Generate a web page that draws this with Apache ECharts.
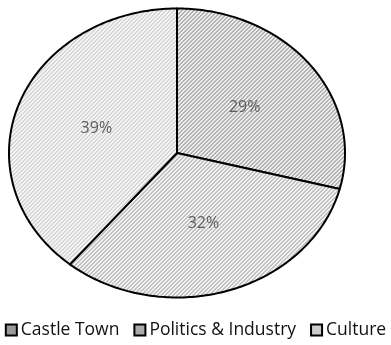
<!DOCTYPE html>
<html>
<head>
<meta charset="utf-8">
<script src="https://cdn.jsdelivr.net/npm/echarts@6/dist/echarts.min.js"></script>
<style>
    html, body { margin: 0; padding: 0; background: #fff; }
    #chart { width: 391px; height: 345px; }
</style>
</head>
<body>
<div id="chart"></div>
<script>
// data
var categories = ['Castle Town', 'Politics & Industry', 'Culture'];
var shares = [29, 32, 39];

// hatch colours (stripe / background) per slice
var stripeColors = ['#b2b2b2', '#c2c2c2', '#d6d6d6'];
var backColors = ['#eeeeee', '#f1f1f1', '#f6f6f6'];
var legendColors = ['#9a9a9a', '#ababab', '#cccccc'];

//small diagonal hatch tile used as a pattern fill
function hatch(line, back) {
    var c = document.createElement('canvas');
    c.width = 4;
    c.height = 4;
    var ctx = c.getContext('2d');
    ctx.fillStyle = back;
    ctx.fillRect(0, 0, 4, 4);
    ctx.fillStyle = line;
    for (var x = 0; x < 4; x++) {
        ctx.fillRect(x, (3 - x + 4) % 4, 1, 1);
        ctx.fillRect(x, (4 - x) % 4, 1, 1);
    }
    return c;
}

var total = 0;
var starts = [];
for (var i = 0; i < shares.length; i++) {
    starts.push(total);
    total += shares[i];
}

var patterns = categories.map(function (c, i) {
    return { image: hatch(stripeColors[i], backColors[i]), repeat: 'repeat' };
});

// elliptical pie (Excel style, stretched horizontally)
var cx = 177, cy = 153, rx = 168, ry = 144.5;

function makeSeries(name, i) {
    return {
        type: 'custom',
        name: name,
        coordinateSystem: 'none',
        data: [shares[i]],
        renderItem: function (params, api) {
            var v = api.value(0);
            var a0 = starts[i] / total * Math.PI * 2;
            var a1 = (starts[i] + v) / total * Math.PI * 2;
            var pts = [[cx, cy]];
            var n = Math.ceil((a1 - a0) * 60);
            for (var k = 0; k <= n; k++) {
                var a = a0 + (a1 - a0) * k / n;
                pts.push([cx + rx * Math.sin(a), cy - ry * Math.cos(a)]);
            }
            var mid = (a0 + a1) / 2;
            return {
                type: 'group',
                children: [{
                    type: 'polygon',
                    shape: { points: pts },
                    style: {
                        fill: patterns[i],
                        stroke: '#000',
                        lineWidth: 2,
                        lineJoin: 'round'
                    }
                }, {
                    type: 'text',
                    x: cx + 0.51 * rx * Math.sin(mid),
                    y: cy - 0.51 * ry * Math.cos(mid),
                    style: {
                        text: Math.round(v / total * 100) + '%',
                        fill: '#5e5e5e',
                        font: '16px "Open Sans"',
                        align: 'center',
                        verticalAlign: 'middle'
                    }
                }]
            };
        }
    };
}

var chart = echarts.init(document.getElementById('chart'));

chart.setOption({
    animation: false,
    legend: {
        top: 321,
        left: 'center',
        padding: 0,
        icon: 'rect',
        itemWidth: 11,
        itemHeight: 11,
        itemGap: 14,
        selectedMode: false,
        textStyle: {
            fontFamily: 'Open Sans',
            fontSize: 17.5,
            color: '#111',
            padding: [0, 0, 0, -1]
        },
        data: categories.map(function (name, i) {
            return {
                name: name,
                itemStyle: {
                    color: legendColors[i],
                    borderColor: '#000',
                    borderWidth: 2
                }
            };
        })
    },
    series: categories.map(makeSeries)
});
</script>
</body>
</html>
